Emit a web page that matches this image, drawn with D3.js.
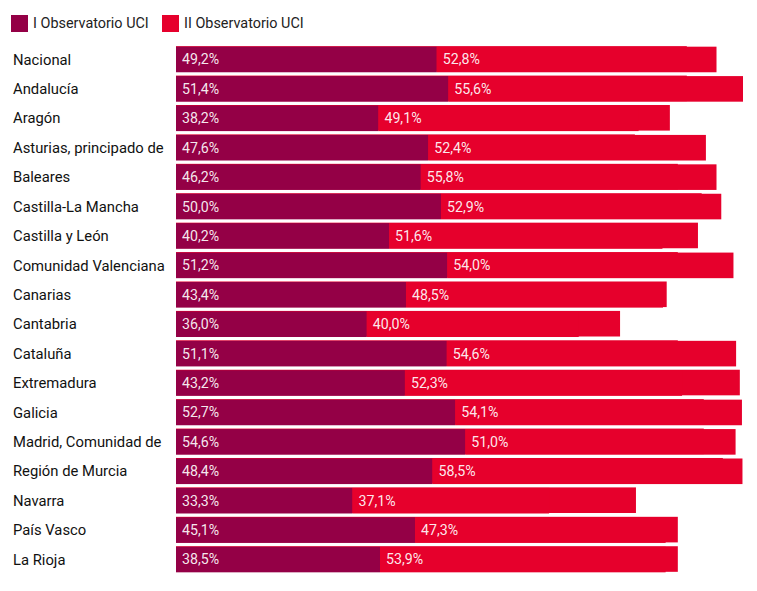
<!DOCTYPE html>
<html>
<head>
<meta charset="utf-8">
<script src="https://cdn.jsdelivr.net/npm/d3@7"></script>
<style>
  html, body { margin: 0; padding: 0; background: #fff; }
  svg { display: block; font-family: Roboto, "Noto Sans", sans-serif; }
</style>
</head>
<body>
<svg id="chart" width="757" height="591"></svg>
<script>
const categories = ["Nacional","Andalucía","Aragón","Asturias, principado de","Baleares","Castilla-La Mancha","Castilla y León","Comunidad Valenciana","Canarias","Cantabria","Cataluña","Extremadura","Galicia","Madrid, Comunidad de","Región de Murcia","Navarra","País Vasco","La Rioja"];
const seriesNames = ["I Observatorio UCI","II Observatorio UCI"];
const obsI  = [49.2,51.4,38.2,47.6,46.2,50.0,40.2,51.2,43.4,36.0,51.1,43.2,52.7,54.6,48.4,33.3,45.1,38.5];
const obsII = [52.8,55.6,49.1,52.4,55.8,52.9,51.6,54.0,48.5,40.0,54.6,52.3,54.1,51.0,58.5,37.1,47.3,53.9];
// faint previous-frame bar extents visible behind the bars in the picture
const previousTotals = [96.4,96.4,93.2,86.6,94.7,99.2,98.5,94.7,92.6,83.8,94.7,106.4,99.6,99.6,103.2,86.8,94.7,94.7];
const colors = ["#940046","#e6002c"];

const svg = d3.select("#chart");
const data = categories.map((c,i)=>({cat:c, a:obsI[i], b:obsII[i], prev:previousTotals[i]}));

const x = d3.scaleLinear().domain([0, d3.max(data, d=>d.a+d.b)]).range([176, 743]);
const y = d3.scaleBand().domain(categories).range([45.5, 573.5]).paddingInner(0.13).paddingOuter(0.04);

// legend
const lg = svg.append("g");
const legendX = [11, 162];
seriesNames.forEach((n,i)=>{
  lg.append("rect").attr("x",legendX[i]).attr("y",15).attr("width",17).attr("height",17).attr("fill",colors[i]);
  lg.append("text").attr("x",legendX[i]+22).attr("y",28).attr("font-size",14.4).attr("fill","#222").text(n);
});

// category labels
svg.append("g").selectAll("text").data(data).join("text")
  .attr("x",13).attr("y",d=>y(d.cat)+y.bandwidth()/2).attr("dy","0.35em")
  .attr("font-size",14.8).attr("fill","#111").text(d=>d.cat);

// ghost layer
svg.append("g").selectAll("rect").data(data).join("rect")
  .attr("x",x(0)).attr("y",d=>y(d.cat)-0.5).attr("height",y.bandwidth())
  .attr("width",d=>x(d.prev)-x(0)).attr("fill",colors[1]);

// stacked bars
const stack = d3.stack().keys(["a","b"])(data);
svg.append("g").selectAll("g").data(stack).join("g")
  .attr("fill",(d,i)=>colors[i])
  .selectAll("rect").data(d=>d).join("rect")
  .attr("x",d=>x(d[0])).attr("y",d=>y(d.data.cat)).attr("height",y.bandwidth())
  .attr("width",d=>x(d[1])-x(d[0]));

// value labels
const fmt = v => d3.format(".1f")(v).replace(".", ",") + "%";
svg.append("g").selectAll("g").data(stack).join("g")
  .selectAll("text").data(d=>d.map(p=>({p, key:d.key}))).join("text")
  .attr("x",d=>x(d.p[0])+6).attr("y",d=>y(d.p.data.cat)+y.bandwidth()/2).attr("dy","0.35em")
  .attr("font-size",14.2).attr("fill","#fff").attr("fill-opacity",0.92)
  .text(d=>fmt(d.p.data[d.key]));
</script>
</body>
</html>
